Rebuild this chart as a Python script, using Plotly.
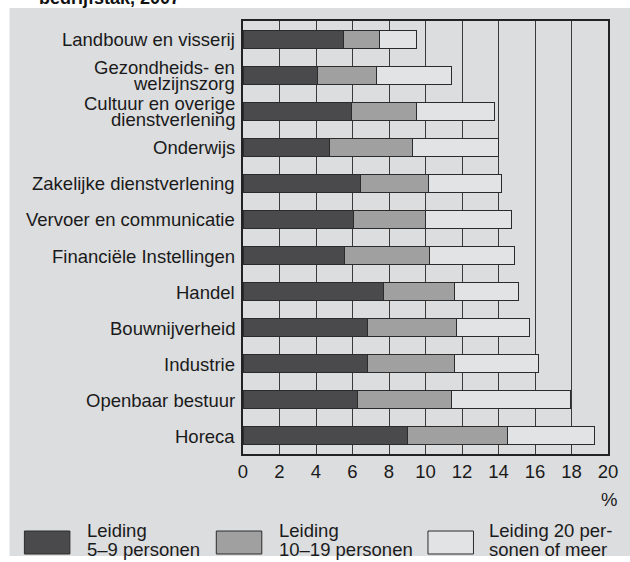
import plotly.graph_objects as go

# ---------- data ----------
sectors = [
    "Landbouw en visserij",
    "Gezondheids- en<br>welzijnszorg",
    "Cultuur en overige<br>dienstverlening",
    "Onderwijs",
    "Zakelijke dienstverlening",
    "Vervoer en communicatie",
    "Financiële Instellingen",
    "Handel",
    "Bouwnijverheid",
    "Industrie",
    "Openbaar bestuur",
    "Horeca",
]
leiding_5_9 = [5.5, 4.1, 5.95, 4.75, 6.45, 6.05, 5.55, 7.7, 6.8, 6.8, 6.3, 9.0]
leiding_10_19 = [2.0, 3.2, 3.55, 4.55, 3.7, 3.95, 4.65, 3.9, 4.9, 4.8, 5.15, 5.5]
leiding_20 = [2.0, 4.1, 4.3, 4.7, 4.0, 4.7, 4.7, 3.5, 4.0, 4.6, 6.5, 4.75]

series_names = ["Leiding<br>5–9 personen", "Leiding<br>10–19 personen", "Leiding 20 per-<br>sonen of meer"]
colors = ["#4a4a4c", "#a0a0a1", "#e2e3e5"]
x_ticks = list(range(0, 21, 2))

# ---------- layout helpers (pixels -> paper) ----------
W, H = 630, 562
L, R, T, B = 243, 612, 21, 454
def px(x): return (x - L) / (R - L)
def py(y): return (B - y) / (B - T)

FONT = "Liberation Sans, Arial, sans-serif"
FS = 18.5
idx = list(range(len(sectors)))

fig = go.Figure()
for vals, name, col in zip([leiding_5_9, leiding_10_19, leiding_20], series_names, colors):
    fig.add_trace(go.Bar(
        y=idx, x=vals, orientation="h", name=name,
        marker=dict(color=col, line=dict(color="#2b2b2b", width=1)),
        width=0.5, showlegend=False, hoverinfo="x",
    ))

# grey panel behind everything
shapes = [dict(type="rect", xref="paper", yref="paper", layer="below",
               x0=px(7), x1=px(640), y0=py(556), y1=py(8),
               fillcolor="#dcdddf", line=dict(width=0))]

annotations = []
# category labels, one annotation per line for tight spacing
for i, s in enumerate(sectors):
    lines = s.split("<br>")
    shifts = [0] if len(lines) == 1 else [7.9, -7.9]
    for ln, sh in zip(lines, shifts):
        annotations.append(dict(text=ln, xref="paper", yref="y", x=px(237), y=i,
                                xanchor="right", yanchor="middle", yshift=sh - 0.5,
                                showarrow=False, font=dict(size=FS, color="#1a1a1a")))

# title fragment at top (cut off)
annotations.append(dict(text="<b>bedrijfstak, 2007</b>", xref="paper", yref="paper",
                        x=px(35), y=py(-1.5), xanchor="left", yanchor="middle",
                        showarrow=False, font=dict(size=18, color="#111")))
# unit
annotations.append(dict(text="%", xref="paper", yref="paper", x=px(613), y=py(499),
                        xanchor="center", yanchor="middle", showarrow=False,
                        font=dict(size=FS, color="#1a1a1a")))

# legend boxes + text
box_x = [22, 216, 430]
txt_x = [83, 277, 490]
for bx, tx, name, col in zip(box_x, txt_x, series_names, colors):
    shapes.append(dict(type="rect", xref="paper", yref="paper",
                       x0=px(bx), x1=px(bx + 46), y0=py(554), y1=py(531),
                       fillcolor=col, line=dict(color="#2b2b2b", width=1)))
    for ln, yy in zip(name.split("<br>"), [530, 549.5]):
        annotations.append(dict(text=ln, xref="paper", yref="paper", x=px(tx), y=py(yy),
                                xanchor="left", yanchor="middle", showarrow=False,
                                font=dict(size=FS, color="#1a1a1a")))

fig.update_layout(
    width=W, height=H,
    barmode="stack",
    margin=dict(l=L, r=W - R, t=T, b=H - B),
    paper_bgcolor="white", plot_bgcolor="white",
    font=dict(family=FONT, size=FS, color="#1a1a1a"),
    shapes=shapes, annotations=annotations,
    xaxis=dict(range=[0, 20], tickvals=x_ticks, ticks="", showgrid=True,
               gridcolor="#3a3a3a", gridwidth=1, zeroline=False,
               showline=True, linecolor="#222", linewidth=1.5, mirror=True,
               tickfont=dict(size=FS), fixedrange=True),
    yaxis=dict(range=[11.5, -0.5], showticklabels=False, ticks="", showgrid=False,
               zeroline=False, showline=True, linecolor="#222", linewidth=1.5,
               mirror=True, fixedrange=True),
)

fig.write_html("out.html", config={"displayModeBar": False},
               post_script="document.body.style.margin='0';document.body.style.overflow='hidden';")
